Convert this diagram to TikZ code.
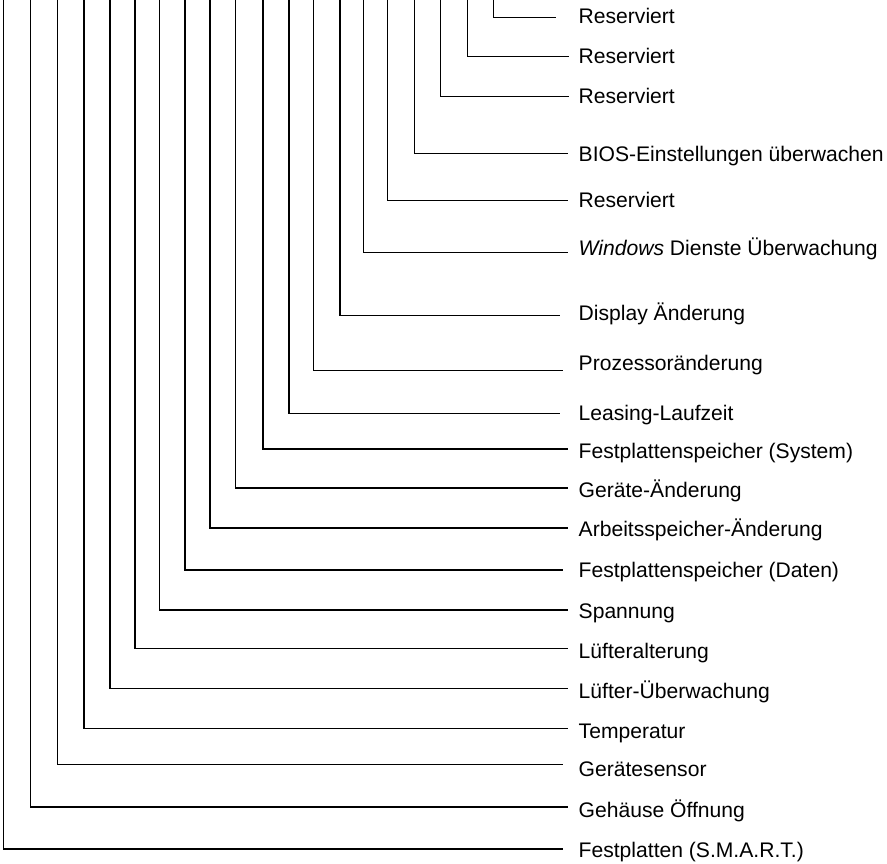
\documentclass[tikz,border=0pt]{standalone}
\usepackage{fontspec}
\setmainfont{Liberation Sans}
\begin{document}
\begin{tikzpicture}[x=1pt,y=-1pt,
  wire/.style={line width=1.3pt, black},
  lbl/.style={anchor=base west, inner sep=0pt, font=\fontsize{21.1}{25}\selectfont}]
\useasboundingbox (0,0) rectangle (887,863);
\foreach \i/\x/\ly/\ex/\by/\t in {
 1/493.5/17.3/556/23.3/Reserviert,
 2/467.7/56.5/569/63.3/Reserviert,
 3/440.7/96.7/569/103.3/Reserviert,
 4/414.5/153.8/568/161.5/BIOS-Einstellungen überwachen,
 5/387.7/200.7/568/207.5/Reserviert,
 6/363.5/252.5/568/255.5/{\textit{Windows} Dienste Überwachung},
 7/340/315.5/560/320.5/Display Änderung,
 8/313.5/370.5/563/370/Prozessoränderung,
 9/289/413.5/560/420/Leasing-Laufzeit,
 10/263/449/568/458/Festplattenspeicher (System),
 11/235.5/488/568/497.5/Geräte-Änderung,
 12/210/528/568/536.5/Arbeitsspeicher-Änderung,
 13/185/570/563/577.5/Festplattenspeicher (Daten),
 14/159.5/610/568/618.3/Spannung,
 15/135/648.3/568/658/Lüfteralterung,
 16/110/688.3/568/698/Lüfter-Überwachung,
 17/84/728.3/568/738/Temperatur,
 18/57.5/764.3/563/776/Gerätesensor,
 19/30.5/807/568/817.5/Gehäuse Öffnung,
 20/3.5/849/563/857.5/Festplatten (S.M.A.R.T.)}{
  \coordinate (top\i) at (\x,-2);
  \coordinate (end\i) at (\ex,\ly);
  \node[lbl] (lab\i) at (578.5,\by) {\t};
  \draw[wire] (top\i) |- (end\i);
}
\end{tikzpicture}
\end{document}
